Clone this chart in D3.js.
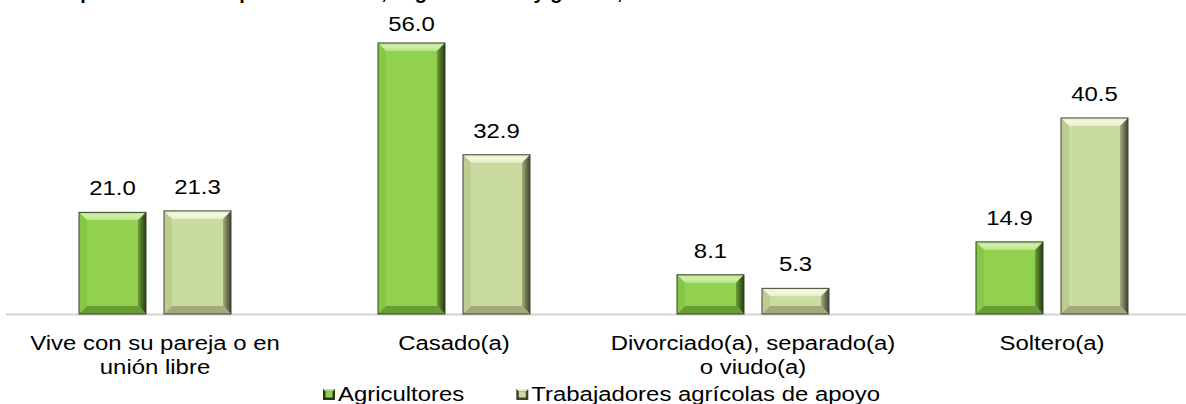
<!DOCTYPE html>
<html>
<head>
<meta charset="utf-8">
<script src="https://cdn.jsdelivr.net/npm/d3@7"></script>
<style>
  body { margin: 0; background: #fff; }
  svg { display: block; font-family: "Liberation Sans", Arial, sans-serif; }
</style>
</head>
<body>
<div id="chart"></div>
<script>
// chart data
const categories = ["Vive con su pareja o en unión libre", "Casado(a)", "Divorciado(a), separado(a) o viudo(a)", "Soltero(a)"];
const series = ["Agricultores", "Trabajadores agrícolas de apoyo"];
const agricultores = [21.0, 56.0, 8.1, 14.9];
const trabajadores = [21.3, 32.9, 5.3, 40.5];
const titleText = "Distribución porcentual de la población total, según entidad y género, 2020";

const width = 1186, height = 404;
const baseY = 314;
const stretch = 1.14; // the source picture is a bit wider than tall

// bevel colours per series
const palette = {
  "Agricultores": { base: "#92d050", top: "#b6e383", topEdge: "#d0efae", left: "#86c746", right1: "#6d9f37", right2: "#263a10", bottom: "#6a9c36", stroke: "#36402b" },
  "Trabajadores agrícolas de apoyo": { base: "#cadb9f", top: "#e4eec6", topEdge: "#f4f8e4", left: "#bccd90", right1: "#a3ad7c", right2: "#3d4330", bottom: "#a2aa7c", stroke: "#3f4435" }
};

const svg = d3.select("#chart").append("svg")
    .attr("width", width)
    .attr("height", height);

const defs = svg.append("defs");
series.forEach((s, i) => {
  const c = palette[s];
  const gr = defs.append("linearGradient").attr("id", "right" + i)
      .attr("x1", 0).attr("x2", 1).attr("y1", 0).attr("y2", 0);
  gr.append("stop").attr("offset", "0%").attr("stop-color", c.right1);
  gr.append("stop").attr("offset", "100%").attr("stop-color", c.right2);
  const gt = defs.append("linearGradient").attr("id", "top" + i)
      .attr("x1", 0).attr("x2", 0).attr("y1", 0).attr("y2", 1);
  gt.append("stop").attr("offset", "0%").attr("stop-color", c.top);
  gt.append("stop").attr("offset", "45%").attr("stop-color", c.topEdge);
  gt.append("stop").attr("offset", "100%").attr("stop-color", c.top);
});

// title (cut by the top edge, like in the source)
svg.append("text")
    .attr("x", -42)
    .attr("y", -1)
    .attr("font-size", "20px")
    .attr("font-weight", "bold")
    .attr("fill", "#000")
    .text(titleText);

const x0 = d3.scaleBand()
    .domain(categories)
    .range([5.5, 1201.5]);

const x1 = d3.scaleBand()
    .domain(series)
    .range([73.5, 225.5])
    .paddingInner(0.212);

const y = d3.scaleLinear()
    .domain([0, 60])
    .range([baseY, baseY - 60 * 4.84]);

const rows = categories.map((c, i) => ({
  category: c,
  values: [
    { key: series[0], idx: 0, value: agricultores[i] },
    { key: series[1], idx: 1, value: trabajadores[i] }
  ]
}));

// axis line + category labels
const axis = svg.append("g")
    .attr("transform", "translate(0," + baseY + ")")
    .call(d3.axisBottom(x0).tickSize(0).tickSizeOuter(0).tickPadding(21));
axis.select(".domain").attr("stroke", "#d4d4d4").attr("stroke-width", 2);
axis.selectAll("text")
    .attr("font-size", "21px")
    .attr("font-family", "\"Liberation Sans\", Arial, sans-serif")
    .attr("fill", "#000")
    .attr("transform", "scale(" + stretch + ",1)")
    .call(wrap, 265);

function wrap(texts, w) {
  texts.each(function () {
    const text = d3.select(this);
    const words = text.text().split(/\s+/);
    const yy = text.attr("y");
    text.text(null);
    let line = [];
    let lineNo = 0;
    let tspan = text.append("tspan").attr("x", 0).attr("y", yy).attr("dy", "0.71em");
    words.forEach(word => {
      line.push(word);
      tspan.text(line.join(" "));
      if (tspan.node().getComputedTextLength() > w && line.length > 1) {
        line.pop();
        tspan.text(line.join(" "));
        line = [word];
        lineNo++;
        tspan = text.append("tspan").attr("x", 0).attr("y", yy)
            .attr("dy", (0.71 + lineNo * 1.14) + "em").text(word);
      }
    });
  });
}

// bars
const group = svg.selectAll(".cat")
    .data(rows)
  .enter().append("g")
    .attr("class", "cat")
    .attr("transform", d => "translate(" + x0(d.category) + ",0)");

const bar = group.selectAll(".bar")
    .data(d => d.values)
  .enter().append("g")
    .attr("class", "bar")
    .attr("transform", d => "translate(" + x1(d.key) + "," + y(d.value) + ")");

bar.each(function (d) {
  const g = d3.select(this);
  const c = palette[d.key];
  const w = x1.bandwidth();
  const h = baseY - y(d.value);
  const b = Math.min(8, w / 2, h / 2);
  g.append("rect").attr("width", w).attr("height", h).attr("fill", c.base);
  // top
  g.append("polygon")
      .attr("points", [[0, 0], [w, 0], [w - b, b], [b, b]].join(" "))
      .attr("fill", "url(#top" + d.idx + ")");
  // left
  g.append("polygon")
      .attr("points", [[0, 0], [b, b], [b, h - b], [0, h]].join(" "))
      .attr("fill", c.left);
  // right
  g.append("polygon")
      .attr("points", [[w, 0], [w, h], [w - b, h - b], [w - b, b]].join(" "))
      .attr("fill", "url(#right" + d.idx + ")");
  // bottom
  g.append("polygon")
      .attr("points", [[0, h], [b, h - b], [w - b, h - b], [w, h]].join(" "))
      .attr("fill", c.bottom);
  g.append("rect").attr("width", w).attr("height", h)
      .attr("fill", "none")
      .attr("stroke", c.stroke)
      .attr("stroke-width", 1);
});

// value labels
group.selectAll(".val")
    .data(d => d.values)
  .enter().append("text")
    .attr("class", "val")
    .attr("transform", d => "translate(" + (x1(d.key) + x1.bandwidth() / 2) + "," +
        Math.max(y(d.value) - 17, 31) + ") scale(" + stretch + ",1)")
    .attr("text-anchor", "middle")
    .attr("font-size", "21px")
    .attr("fill", "#000")
    .text(d => d.value.toFixed(1));

// legend
const legend = svg.append("g").attr("transform", "translate(323,389)");
let lx = 0;
series.forEach((s, i) => {
  const c = palette[s];
  const item = legend.append("g").attr("transform", "translate(" + lx + ",0)");
  item.append("rect").attr("width", 12).attr("height", 11).attr("fill", c.right2);
  item.append("rect").attr("x", 2.5).attr("y", 2.5).attr("width", 7).attr("height", 6).attr("fill", c.base);
  item.append("polygon").attr("points", "0,0 12,0 9.5,2.5 2.5,2.5").attr("fill", c.top);
  const t = item.append("text")
      .attr("transform", "translate(15,12) scale(" + stretch + ",1)")
      .attr("font-size", "21px")
      .attr("fill", "#000")
      .text(s);
  lx += 15 + t.node().getComputedTextLength() * stretch + 52;
});
</script>
</body>
</html>
